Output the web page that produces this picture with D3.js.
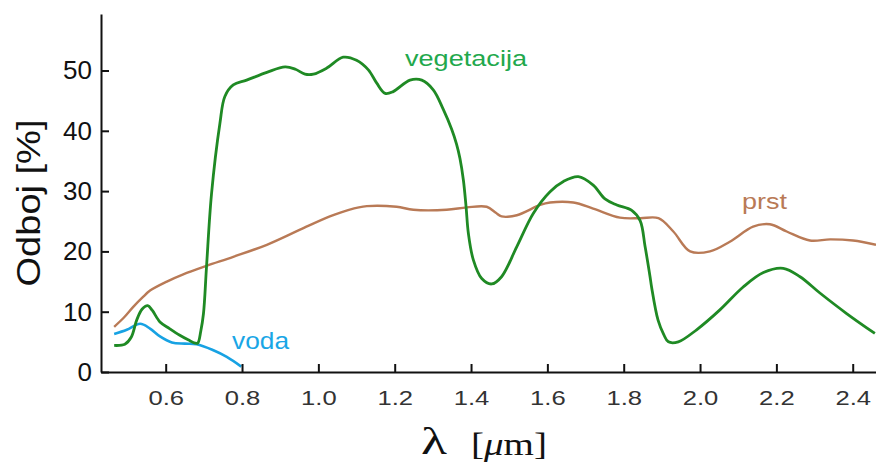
<!DOCTYPE html>
<html><head><meta charset="utf-8">
<script src="https://cdn.jsdelivr.net/npm/d3@7/dist/d3.min.js"></script>
<style>html,body{margin:0;padding:0;background:#fff;}svg{display:block;}</style>
</head><body>
<svg id="c" width="876" height="464"></svg>
<script>
// ---- data ----
const vegLambda = [0.465,0.493,0.510,0.524,0.538,0.553,0.565,0.585,0.610,0.637,0.660,0.677,0.684,0.692,0.699,0.707,0.720,0.742,0.755,0.777,0.812,0.865,0.913,0.940,0.965,0.987,1.022,1.065,1.100,1.131,1.153,1.175,1.196,1.240,1.271,1.301,1.327,1.349,1.362,1.371,1.380,1.387,1.393,1.406,1.428,1.454,1.480,1.520,1.563,1.607,1.642,1.681,1.720,1.751,1.782,1.821,1.843,1.856,1.869,1.873,1.890,1.905,1.917,1.943,1.991,2.052,2.113,2.166,2.218,2.262,2.314,2.384,2.458];
const vegValues = [4.4,4.6,5.8,8.6,10.4,11.0,10.2,8.3,7.2,6.1,5.3,4.8,4.8,6.8,9.7,17.5,29.5,41.2,45.7,47.6,48.4,49.7,50.6,50.2,49.4,49.4,50.4,52.2,51.7,50.1,47.9,46.2,46.5,48.4,48.4,46.8,43.6,40.3,37.8,35.4,31.8,27.4,23.0,18.6,15.5,14.6,15.8,20.8,26.3,29.9,31.6,32.4,31.0,28.7,27.7,26.8,25.1,20.8,15.8,14.1,8.6,6.2,5.0,5.0,7.0,10.3,14.1,16.5,17.2,15.8,13.1,9.7,6.4];

const soilLambda = [0.465,0.490,0.515,0.540,0.559,0.603,0.646,0.707,0.777,0.865,0.952,1.030,1.080,1.127,1.205,1.249,1.336,1.389,1.441,1.465,1.480,1.520,1.581,1.607,1.668,1.720,1.790,1.843,1.891,1.930,1.974,2.026,2.078,2.139,2.183,2.227,2.288,2.341,2.401,2.461];
const soilValues = [7.5,9.0,10.8,12.4,13.5,15.0,16.2,17.6,19.1,21.1,23.6,25.8,26.9,27.5,27.4,26.9,26.9,27.3,27.4,26.4,25.8,26.0,27.7,28.1,28.1,27.1,25.6,25.5,25.5,23.3,20.0,20.0,21.6,24.1,24.5,23.3,21.8,22.0,21.8,21.1];

const waterLambda = [0.465,0.498,0.533,0.559,0.585,0.616,0.650,0.681,0.725,0.760,0.798];
const waterValues = [6.3,7.0,8.0,7.2,5.9,4.9,4.7,4.6,3.6,2.5,0.9];

const xTicks = [0.6,0.8,1.0,1.2,1.4,1.6,1.8,2.0,2.2,2.4];
const yTicks = [0,10,20,30,40,50];
const seriesNames = ["vegetacija","prst","voda"];

// ---- chart ----
const svg = d3.select("#c");
const x = d3.scaleLinear().domain([0.4305, 2.461]).range([101, 876]);
const y = d3.scaleLinear().domain([0, 59.37]).range([372, 14]);

const line = d3.line().x(d => x(d[0])).y(d => y(d[1])).curve(d3.curveCatmullRom.alpha(0.5));
const zip = (a, b) => a.map((v, i) => [v, b[i]]);

svg.append("path").datum(zip(soilLambda, soilValues))
  .attr("d", line).attr("fill", "none").attr("stroke", "#b97a56").attr("stroke-width", 2.4);
svg.append("path").datum(zip(waterLambda, waterValues))
  .attr("d", line).attr("fill", "none").attr("stroke", "#17a2e3").attr("stroke-width", 2.6);
svg.append("path").datum(zip(vegLambda, vegValues))
  .attr("d", line).attr("fill", "none").attr("stroke", "#1f8a24").attr("stroke-width", 2.8);

// axes
const gx = svg.append("g").attr("transform", "translate(0,372)")
  .call(d3.axisBottom(x).tickValues(xTicks).tickFormat(d3.format(".1f")).tickSizeInner(-8).tickSizeOuter(0).tickPadding(18));
gx.select(".domain").attr("stroke", "#111").attr("stroke-width", 2);
gx.selectAll(".tick line").attr("stroke", "#111").attr("stroke-width", 2);
gx.selectAll(".tick text").attr("fill", "#333").attr("font-family", "Liberation Sans, Arial, sans-serif")
  .attr("font-size", 21).attr("transform", "scale(1.22,1)");

const gy = svg.append("g").attr("transform", "translate(101,0)")
  .call(d3.axisLeft(y).tickValues(yTicks).tickSizeInner(-8).tickSizeOuter(0).tickPadding(9));
gy.select(".domain").attr("stroke", "#111").attr("stroke-width", 2);
gy.selectAll(".tick line").attr("stroke", "#111").attr("stroke-width", 2);
gy.selectAll(".tick text").attr("fill", "#111").attr("font-family", "Liberation Sans, Arial, sans-serif")
  .attr("font-size", 26);

// axis titles
svg.append("text").attr("transform", "translate(40,203) rotate(-90)")
  .attr("text-anchor", "middle").attr("font-family", "Liberation Sans, Arial, sans-serif")
  .attr("font-size", 33).attr("fill", "#111").attr("textLength", 167).attr("lengthAdjust", "spacingAndGlyphs")
  .text("Odboj  [%]");

svg.append("text").attr("x", 421).attr("y", 454)
  .attr("font-family", "Liberation Serif, Times New Roman, serif").attr("fill", "#111")
  .attr("font-size", 38).attr("textLength", 26).attr("lengthAdjust", "spacingAndGlyphs").text("λ");
const xt = svg.append("text").attr("x", 471).attr("y", 455)
  .attr("font-family", "Liberation Serif, Times New Roman, serif").attr("fill", "#111")
  .attr("font-size", 31).attr("textLength", 76).attr("lengthAdjust", "spacingAndGlyphs");
xt.append("tspan").text("[");
xt.append("tspan").attr("font-style", "italic").text("μ");
xt.append("tspan").text("m]");

// series labels
const lab = (t, x0, yb, w, size, col) => svg.append("text").attr("x", x0).attr("y", yb)
  .attr("font-family", "Liberation Sans, Arial, sans-serif").attr("font-size", size).attr("fill", col)
  .attr("textLength", w).attr("lengthAdjust", "spacingAndGlyphs").text(t);
lab(seriesNames[0], 405, 66, 122, 22, "#22a84c");
lab(seriesNames[1], 742, 209, 45, 22, "#b97a56");
lab(seriesNames[2], 232, 349, 57, 24, "#19a6e6");
</script>
</body></html>
